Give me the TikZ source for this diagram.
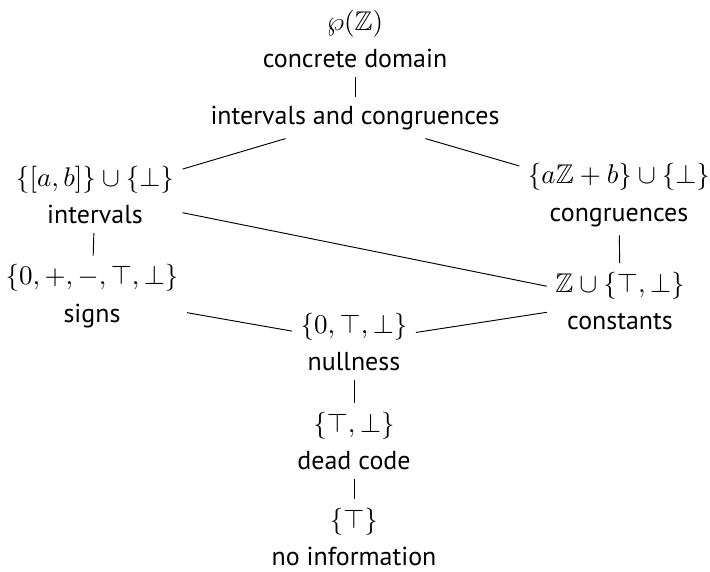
\documentclass[tikz,border=0pt]{standalone}
\usepackage{amssymb}
\usepackage[no-math]{fontspec}
\setmainfont[Scale=0.96]{PT Sans}
\usepackage{tikz}

\begin{document}
\begin{tikzpicture}[
    x=0.37pt, y=-0.37pt,
    dom/.style={align=center, inner sep=3pt},
    edge/.style={draw=black, line width=0.35pt},
]
\useasboundingbox (0,0) rectangle (710,572);

% ── Top of the lattice ───────────────────────────────────────────────
\node[dom] (conc) at (355, 39)  {$\wp(\mathbb{Z})$\\[2pt]concrete domain};
\node[dom] (prod) at (355, 118) {intervals and congruences};

% ── Middle rows ──────────────────────────────────────────────────────
\node[dom] (intv) at (95, 195)  {$\{[a,b]\}\cup\{\bot\}$\\[2pt]intervals};
\node[dom] (cong) at (619, 195) {$\{a\mathbb{Z}+b\}\cup\{\bot\}$\\[2pt]congruences};
\node[dom] (sign) at (92, 296)  {$\{0,+,-,\top,\bot\}$\\[2pt]signs};
\node[dom] (cnst) at (620, 301) {$\mathbb{Z}\cup\{\top,\bot\}$\\[2pt]constants};

% ── Bottom chain ─────────────────────────────────────────────────────
\node[dom] (null) at (354, 342) {$\{0,\top,\bot\}$\\[2pt]nullness};
\node[dom] (dead) at (354, 441) {$\{\top,\bot\}$\\[2pt]dead code};
\node[dom] (none) at (354, 537) {$\{\top\}$\\[2pt]no information};

% ── Edges ────────────────────────────────────────────────────────────
\draw[edge] (conc) -- (prod);
\draw[edge] (prod) -- (intv);
\draw[edge] (prod) -- (cong);
\draw[edge] (intv) -- (sign);
\draw[edge] (intv) -- (cnst);
\draw[edge] (cong) -- (cnst);
\draw[edge] (sign) -- (null);
\draw[edge] (cnst) -- (null);
\draw[edge] (null) -- (dead);
\draw[edge] (dead) -- (none);

\end{tikzpicture}
\end{document}
